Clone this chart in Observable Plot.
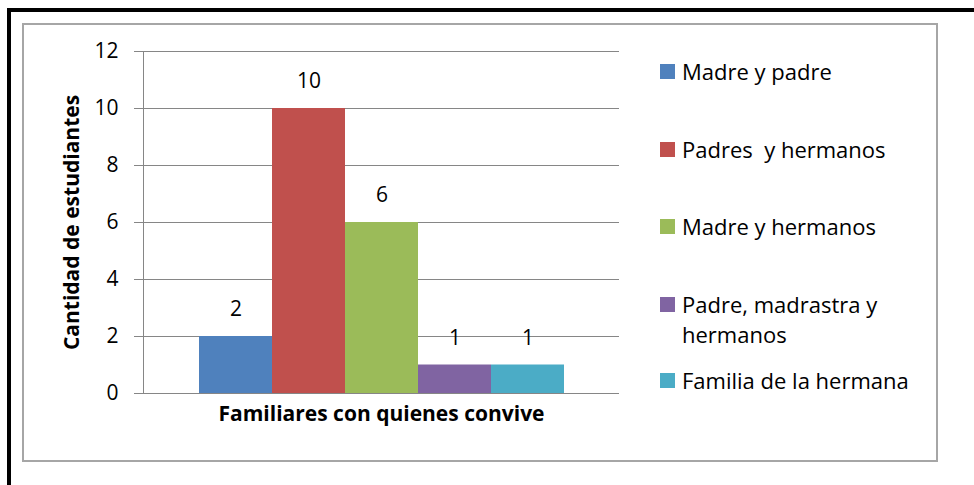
<!DOCTYPE html>
<html>
<head>
<meta charset="utf-8">
<script src="https://cdn.jsdelivr.net/npm/d3@7"></script>
<script src="https://cdn.jsdelivr.net/npm/@observablehq/plot@0.6"></script>
<style>
  html, body { margin: 0; padding: 0; background: #fff; }
  body { width: 974px; height: 485px; position: relative; overflow: hidden; font-family: "Open Sans", sans-serif; }
  #outerTop { position: absolute; left: 7px; top: 8px; width: 967px; height: 4px; background: #000; }
  #outerLeft { position: absolute; left: 7px; top: 8px; width: 4px; height: 477px; background: #000; }
  #box { position: absolute; left: 22px; top: 23px; width: 912px; height: 435px; border: 2px solid #a6a6a6; }
  #chart { position: absolute; left: 0; top: 0; }
  #legend { position: absolute; left: 660px; top: 0; font-size: 22px; color: #000; }
  .item { position: absolute; left: 0; white-space: pre; line-height: 30px; }
  .sw { position: absolute; left: 0; width: 15px; height: 15px; }
  .lbl { position: absolute; left: 22px; }
</style>
</head>
<body>
<div id="outerTop"></div>
<div id="outerLeft"></div>
<div id="box"></div>
<div id="chart"></div>
<div id="legend"></div>
<script>
const categories = ["Madre y padre", "Padres  y hermanos", "Madre y hermanos", "Padre, madrastra y hermanos", "Familia de la hermana"];
const values = [2, 10, 6, 1, 1];
const colors = ["#4F81BD", "#C0504D", "#9BBB59", "#8064A2", "#4BACC6"];
const yTicks = [0, 2, 4, 6, 8, 10, 12];
const xTitle = "Familiares con quienes convive";
const yTitle = "Cantidad de estudiantes";

const data = categories.map((c, i) => ({name: c, value: values[i]}));
const FONT = "'Open Sans', sans-serif";

const chart = Plot.plot({
  width: 974,
  height: 485,
  marginTop: 51,
  marginBottom: 92,
  marginLeft: 143,
  marginRight: 355,
  style: {fontFamily: FONT, fontSize: "21px", color: "#000", background: "transparent"},
  x: {domain: categories, paddingInner: 0, paddingOuter: 0.74, axis: null},
  y: {domain: [0, 12], axis: null},
  color: {domain: categories, range: colors},
  marks: [
    Plot.gridY(yTicks, {stroke: "#868686", strokeOpacity: 1, strokeWidth: 1}),
    Plot.axisY(yTicks, {tickSize: 9, tickPadding: 16, stroke: "#868686", fill: "#000", fontSize: 21, label: null}),
    Plot.frame({anchor: "left", stroke: "#868686"}),
    Plot.barY(data, {x: "name", y: "value", fill: "name"}),
    Plot.text(data, {x: "name", y: "value", text: d => String(d.value), dy: -27, fontSize: 21, fill: "#000"}),
    Plot.text([xTitle], {frameAnchor: "bottom", textAnchor: "middle", dy: 27, fontWeight: "bold", fontSize: 21, fill: "#000"}),
    Plot.text([yTitle], {frameAnchor: "left", textAnchor: "middle", dx: -71, rotate: -90, fontWeight: "bold", fontSize: 21, fill: "#000"})
  ]
});
document.getElementById("chart").appendChild(chart);

// legend
const legendY = [71, 149, 226, 304, 380];
const legend = document.getElementById("legend");
categories.forEach((c, i) => {
  const sw = document.createElement("div");
  sw.className = "sw";
  sw.style.background = colors[i];
  sw.style.top = (legendY[i] - 7) + "px";
  legend.appendChild(sw);
  const lines = i === 3 ? ["Padre, madrastra y", "hermanos"] : [c];
  lines.forEach((t, j) => {
    const lb = document.createElement("div");
    lb.className = "item lbl";
    lb.textContent = t;
    lb.style.top = (legendY[i] - 15 + j * 30) + "px";
    legend.appendChild(lb);
  });
});
</script>
</body>
</html>
